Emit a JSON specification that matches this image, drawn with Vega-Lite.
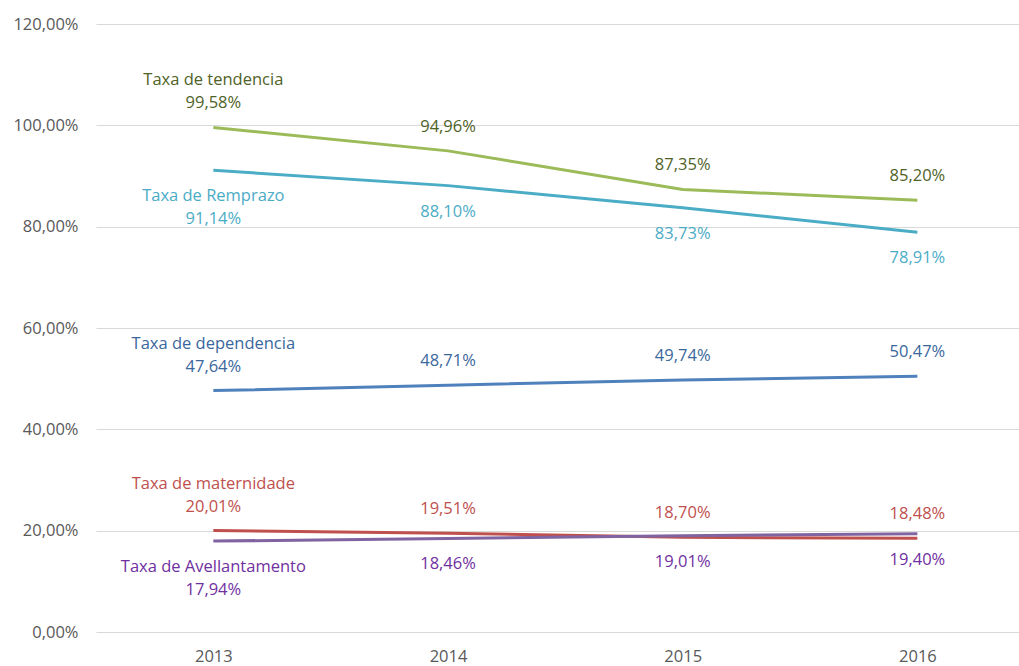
{
  "$schema": "https://vega.github.io/schema/vega-lite/v6.json",
  "width": 923,
  "height": 608,
  "autosize": {"type": "none"},
  "padding": {"left": 96, "top": 24, "right": 0, "bottom": 34},
  "background": "white",
  "config": {
    "locale": {"number": {"decimal": ",", "thousands": ".", "grouping": [3], "currency": ["", " €"]}},
    "view": {"stroke": null},
    "font": "Open Sans"
  },
  "data": {
    "values": [
      {"serie": "Taxa de tendencia", "ano": 2013, "valor": 0.9958},
      {"serie": "Taxa de tendencia", "ano": 2014, "valor": 0.9496},
      {"serie": "Taxa de tendencia", "ano": 2015, "valor": 0.8735},
      {"serie": "Taxa de tendencia", "ano": 2016, "valor": 0.8520},
      {"serie": "Taxa de Remprazo", "ano": 2013, "valor": 0.9114},
      {"serie": "Taxa de Remprazo", "ano": 2014, "valor": 0.8810},
      {"serie": "Taxa de Remprazo", "ano": 2015, "valor": 0.8373},
      {"serie": "Taxa de Remprazo", "ano": 2016, "valor": 0.7891},
      {"serie": "Taxa de dependencia", "ano": 2013, "valor": 0.4764},
      {"serie": "Taxa de dependencia", "ano": 2014, "valor": 0.4871},
      {"serie": "Taxa de dependencia", "ano": 2015, "valor": 0.4974},
      {"serie": "Taxa de dependencia", "ano": 2016, "valor": 0.5047},
      {"serie": "Taxa de maternidade", "ano": 2013, "valor": 0.2001},
      {"serie": "Taxa de maternidade", "ano": 2014, "valor": 0.1951},
      {"serie": "Taxa de maternidade", "ano": 2015, "valor": 0.1870},
      {"serie": "Taxa de maternidade", "ano": 2016, "valor": 0.1848},
      {"serie": "Taxa de Avellantamento", "ano": 2013, "valor": 0.1794},
      {"serie": "Taxa de Avellantamento", "ano": 2014, "valor": 0.1846},
      {"serie": "Taxa de Avellantamento", "ano": 2015, "valor": 0.1901},
      {"serie": "Taxa de Avellantamento", "ano": 2016, "valor": 0.1940}
    ]
  },
  "encoding": {
    "x": {
      "field": "ano", "type": "quantitative",
      "scale": {"domain": [2012.5, 2016.433], "nice": false, "zero": false},
      "axis": {"values": [2013, 2014, 2015, 2016], "format": "d", "title": null, "grid": false, "domain": false, "ticks": false, "labelFontSize": 16.5, "labelColor": "#595959", "labelPadding": 16, "labelFont": "Open Sans"}
    },
    "y": {
      "field": "valor", "type": "quantitative",
      "scale": {"domain": [0, 1.2], "nice": false},
      "axis": {"values": [0, 0.2, 0.4, 0.6, 0.8, 1.0, 1.2], "format": ".2%", "title": null, "domain": false, "ticks": false, "gridColor": "#D9D9D9", "gridWidth": 1, "labelFontSize": 16.5, "labelColor": "#595959", "labelPadding": 18, "labelFont": "Open Sans"}
    }
  },
  "layer": [
    {
      "mark": {"type": "line", "strokeWidth": 3, "interpolate": "linear"},
      "encoding": {
        "color": {
          "field": "serie", "type": "nominal", "legend": null,
          "scale": {
            "domain": ["Taxa de tendencia", "Taxa de Remprazo", "Taxa de dependencia", "Taxa de maternidade", "Taxa de Avellantamento"],
            "range": ["#9BBB59", "#4BACC6", "#4F81BD", "#C0504D", "#8064A2"]
          }
        }
      }
    },
    {
      "transform": [{"filter": {"field": "serie", "oneOf": ["Taxa de tendencia", "Taxa de dependencia", "Taxa de maternidade"]}}],
      "mark": {"type": "text", "dy": -24, "baseline": "middle", "align": "center", "fontSize": 16.5},
      "encoding": {
        "text": {"field": "valor", "type": "quantitative", "format": ".2%"},
        "color": {
          "field": "serie", "type": "nominal", "legend": null,
          "scale": {
            "domain": ["Taxa de tendencia", "Taxa de Remprazo", "Taxa de dependencia", "Taxa de maternidade", "Taxa de Avellantamento"],
            "range": ["#4F6228", "#4BACC6", "#3A679C", "#C0504D", "#7030A0"]
          }
        }
      }
    },
    {
      "transform": [
        {"filter": {"field": "serie", "oneOf": ["Taxa de Remprazo", "Taxa de Avellantamento"]}},
        {"filter": {"not": {"field": "ano", "equal": 2013}}}
      ],
      "mark": {"type": "text", "dy": 26, "baseline": "middle", "align": "center", "fontSize": 16.5},
      "encoding": {
        "text": {"field": "valor", "type": "quantitative", "format": ".2%"},
        "color": {
          "field": "serie", "type": "nominal", "legend": null,
          "scale": {
            "domain": ["Taxa de tendencia", "Taxa de Remprazo", "Taxa de dependencia", "Taxa de maternidade", "Taxa de Avellantamento"],
            "range": ["#4F6228", "#4BACC6", "#3A679C", "#C0504D", "#7030A0"]
          }
        }
      }
    },
    {
      "transform": [
        {"filter": {"field": "serie", "oneOf": ["Taxa de Remprazo", "Taxa de Avellantamento"]}},
        {"filter": {"field": "ano", "equal": 2013}}
      ],
      "mark": {"type": "text", "dy": 49, "baseline": "middle", "align": "center", "fontSize": 16.5},
      "encoding": {
        "text": {"field": "valor", "type": "quantitative", "format": ".2%"},
        "color": {
          "field": "serie", "type": "nominal", "legend": null,
          "scale": {
            "domain": ["Taxa de tendencia", "Taxa de Remprazo", "Taxa de dependencia", "Taxa de maternidade", "Taxa de Avellantamento"],
            "range": ["#4F6228", "#4BACC6", "#3A679C", "#C0504D", "#7030A0"]
          }
        }
      }
    },
    {
      "transform": [
        {"filter": {"field": "ano", "equal": 2013}},
        {"filter": {"field": "serie", "oneOf": ["Taxa de tendencia", "Taxa de dependencia", "Taxa de maternidade"]}}
      ],
      "mark": {"type": "text", "dy": -47, "baseline": "middle", "align": "center", "fontSize": 16.5},
      "encoding": {
        "text": {"field": "serie", "type": "nominal"},
        "color": {
          "field": "serie", "type": "nominal", "legend": null,
          "scale": {
            "domain": ["Taxa de tendencia", "Taxa de Remprazo", "Taxa de dependencia", "Taxa de maternidade", "Taxa de Avellantamento"],
            "range": ["#4F6228", "#4BACC6", "#3A679C", "#C0504D", "#7030A0"]
          }
        }
      }
    },
    {
      "transform": [
        {"filter": {"field": "ano", "equal": 2013}},
        {"filter": {"field": "serie", "oneOf": ["Taxa de Remprazo", "Taxa de Avellantamento"]}}
      ],
      "mark": {"type": "text", "dy": 26, "baseline": "middle", "align": "center", "fontSize": 16.5},
      "encoding": {
        "text": {"field": "serie", "type": "nominal"},
        "color": {
          "field": "serie", "type": "nominal", "legend": null,
          "scale": {
            "domain": ["Taxa de tendencia", "Taxa de Remprazo", "Taxa de dependencia", "Taxa de maternidade", "Taxa de Avellantamento"],
            "range": ["#4F6228", "#4BACC6", "#3A679C", "#C0504D", "#7030A0"]
          }
        }
      }
    }
  ],
  "resolve": {"scale": {"color": "independent"}}
}
